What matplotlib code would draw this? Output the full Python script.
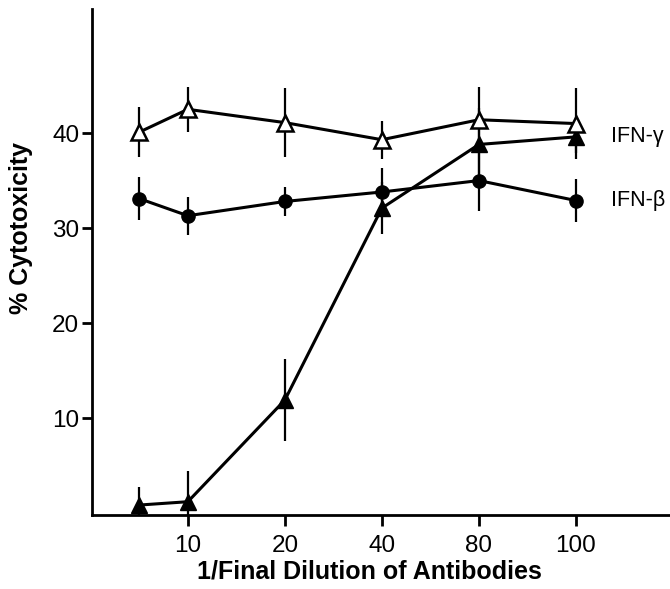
import matplotlib
matplotlib.use("Agg")
import matplotlib.pyplot as plt

plt.rcParams['font.family'] = ['Liberation Sans', 'DejaVu Sans']

# Data
dilutions = ['5', '10', '20', '40', '80', '100']
ifn_gamma = [40.1, 42.5, 41.1, 39.3, 41.4, 41.0]
ifn_gamma_err = [2.6, 2.4, 3.6, 2.0, 3.5, 3.7]
ifn_beta = [33.1, 31.3, 32.8, 33.8, 35.0, 32.9]
ifn_beta_err = [2.3, 2.0, 1.5, 2.5, 3.2, 2.3]
antibody = [0.85, 1.2, 11.9, 32.1, 38.8, 39.6]
antibody_err = [1.9, 3.2, 4.3, 2.7, 3.8, 1.7]
y_ticks = [10, 20, 30, 40]
x_tick_labels = ['10', '20', '40', '80', '100']

# category positions (first, unlabeled dilution sits half a step left of "10")
xpos = [0.5] + list(range(1, len(dilutions)))

fig = plt.figure(figsize=(6.70, 5.89), dpi=100)
ax = fig.add_axes([0.137, 0.1256, 0.863, 0.859])

ekw = dict(ecolor='black', elinewidth=1.6, capsize=0, color='black', lw=2.2)
ax.errorbar(xpos, ifn_beta, yerr=ifn_beta_err, marker='o', ms=9.5,
            mfc='black', mec='black', zorder=3, **ekw)
ax.errorbar(xpos, antibody, yerr=antibody_err, marker='^', ms=11,
            mfc='black', mec='black', zorder=4, **ekw)
ax.errorbar(xpos, ifn_gamma, yerr=ifn_gamma_err, marker='^', ms=11,
            mfc='white', mec='black', mew=1.8, zorder=5, **ekw)

ax.text(5.36, 39.6, 'IFN-γ', fontsize=15.5, va='center', ha='left', clip_on=False)
ax.text(5.36, 32.9, 'IFN-β', fontsize=15.5, va='center', ha='left', clip_on=False)

ax.set_xlim(0.01, 5.97)
ax.set_ylim(-0.2, 53.05)
ax.set_yticks(y_ticks)
ax.set_yticklabels([str(t) for t in y_ticks], fontsize=17.5)
ax.set_xticks(list(range(1, len(dilutions))))
ax.set_xticklabels(x_tick_labels, fontsize=17.5)
ax.tick_params(axis='y', direction='out', length=7, width=2, pad=2)
ax.tick_params(axis='x', direction='out', length=8, width=2, pad=6.5)

for s in ['top', 'right']:
    ax.spines[s].set_visible(False)
for s in ['left', 'bottom']:
    ax.spines[s].set_linewidth(2)

ax.set_xlabel('1/Final Dilution of Antibodies', fontsize=18, fontweight='bold')
ax.set_ylabel('% Cytotoxicity', fontsize=18, fontweight='bold')
ax.xaxis.set_label_coords(0.481, -0.088)
ax.yaxis.set_label_coords(-0.102, 0.567)

fig.savefig('out.png', dpi=100)
